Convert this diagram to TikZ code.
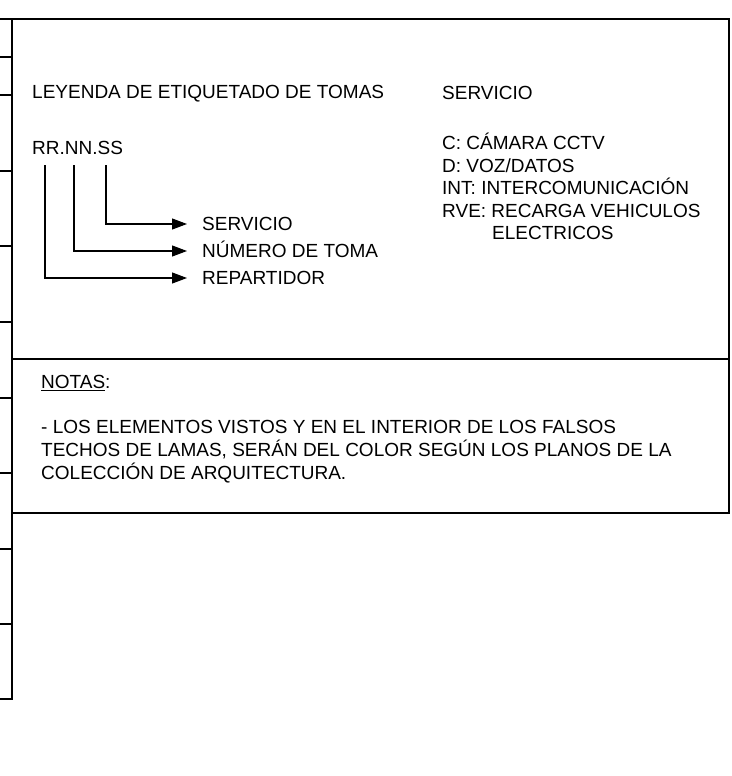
\documentclass[tikz,border=0pt]{standalone}
\usepackage{fontspec}
\setmainfont{Liberation Sans}
\usetikzlibrary{arrows.meta}
\begin{document}
\begin{tikzpicture}[x=1pt,y=-1pt,
  frame/.style={line width=1.8pt, line cap=rect},
  conn/.style={line width=1.5pt, -{Triangle[length=15pt,width=11pt,line width=1pt]}, shorten >=15pt},
  lbl/.style={inner sep=0pt, anchor=west, text height=13.6pt, text depth=0pt,
    font=\fontsize{19}{22.5}\selectfont}]
\useasboundingbox (0,0) rectangle (731,776);
% left strip
\draw[frame] (12,19) -- (12,699);
\foreach \yy in {19,57,95,171,246,322,398,473,549,624,699}
  \draw[frame] (0,\yy) -- (12,\yy);
% box
\draw[frame] (12,19) rectangle (729,513);
\draw[frame] (12,359) -- (729,359);
% legend
\node[lbl] (title) at (32,92) {LEYENDA DE ETIQUETADO DE TOMAS};
\node[lbl] (code) at (32,148) {RR.NN.SS};
\node[lbl] (lserv) at (202,224) {SERVICIO};
\node[lbl] (lnum) at (202,251) {NÚMERO DE TOMA};
\node[lbl] (lrep) at (202,278) {REPARTIDOR};
\coordinate (cr) at (45,165);
\coordinate (cn) at (74,165);
\coordinate (cs) at (106,165);
\draw[conn] (cs) |- (lserv.west);
\draw[conn] (cn) |- (lnum.west);
\draw[conn] (cr) |- (lrep.west);
% service list
\node[lbl] (serv) at (442,93) {SERVICIO};
\node[lbl] (s1) at (442,143) {C: CÁMARA CCTV};
\node[lbl] (s2) at (442,165.5) {D: VOZ/DATOS};
\node[lbl] (s3) at (442,188) {INT: INTERCOMUNICACIÓN};
\node[lbl] (s4) at (442,210.5) {RVE: RECARGA VEHICULOS};
\node[lbl] (s5) at (492,233) {ELECTRICOS};
% notes
\node[lbl] (notas) at (41,382) {\underline{NOTAS}:};
\node[lbl] (n1) at (41,427) {- LOS ELEMENTOS VISTOS Y EN EL INTERIOR DE LOS FALSOS};
\node[lbl] (n2) at (41,450) {TECHOS DE LAMAS, SERÁN DEL COLOR SEGÚN LOS PLANOS DE LA};
\node[lbl] (n3) at (41,473) {COLECCIÓN DE ARQUITECTURA.};
\end{tikzpicture}
\end{document}
